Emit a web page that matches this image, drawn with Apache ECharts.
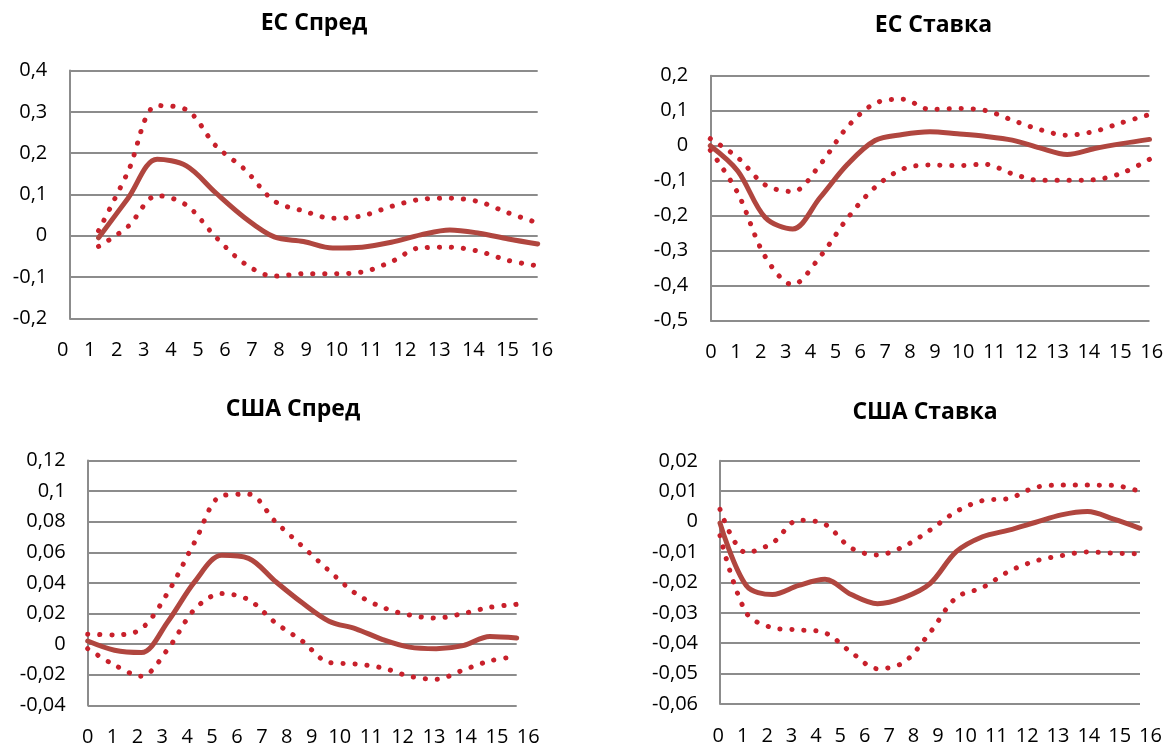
<!DOCTYPE html>
<html><head><meta charset="utf-8">
<script src="https://cdn.jsdelivr.net/npm/echarts@6/dist/echarts.min.js"></script>
<style>html,body{margin:0;padding:0;background:#fff}#c{width:1171px;height:749px}</style>
</head><body><div id="c"></div>
<script>
// ---- data ----
const TICKS_X = ['0','1','2','3','4','5','6','7','8','9','10','11','12','13','14','15','16'];
const X_0_16 = [0,1,2,3,4,5,6,7,8,9,10,11,12,13,14,15,16];
const X_1_16 = [1,2,3,4,5,6,7,8,9,10,11,12,13,14,15,16];

const EU_SPREAD_MID = [-0.005, 0.09, 0.185, 0.169, 0.104, 0.043, -0.003, -0.014, -0.03, -0.028, -0.016, 0.002, 0.014, 0.006, -0.008, -0.02];
const EU_SPREAD_UP  = [0.012, 0.154, 0.315, 0.305, 0.218, 0.16, 0.084, 0.06, 0.042, 0.048, 0.071, 0.088, 0.091, 0.082, 0.055, 0.031];
const EU_SPREAD_LO  = [-0.026, 0.022, 0.097, 0.074, -0.003, -0.068, -0.098, -0.092, -0.092, -0.088, -0.063, -0.029, -0.028, -0.038, -0.06, -0.073];

const EU_RATE_MID = [0.0, -0.072, -0.205, -0.238, -0.148, -0.053, 0.015, 0.032, 0.04, 0.034, 0.027, 0.016, -0.006, -0.025, -0.008, 0.006, 0.018];
const EU_RATE_UP  = [0.02, -0.034, -0.112, -0.131, -0.054, 0.054, 0.121, 0.133, 0.104, 0.106, 0.101, 0.073, 0.046, 0.03, 0.041, 0.066, 0.089];
const EU_RATE_LO  = [-0.013, -0.135, -0.317, -0.397, -0.317, -0.207, -0.119, -0.067, -0.055, -0.057, -0.053, -0.08, -0.099, -0.099, -0.097, -0.078, -0.039];

const US_SPREAD_MID = [0.002, -0.004, -0.0055, 0.015, 0.041, 0.058, 0.056, 0.041, 0.027, 0.015, 0.01, 0.003, -0.002, -0.003, -0.001, 0.005, 0.004];
const US_SPREAD_UP  = [0.0065, 0.006, 0.01, 0.034, 0.067, 0.097, 0.098, 0.08, 0.064, 0.048, 0.033, 0.024, 0.019, 0.017, 0.02, 0.024, 0.026];
const US_SPREAD_LO  = [-0.003, -0.0137, -0.021, -0.003, 0.023, 0.033, 0.029, 0.014, 0.002, -0.012, -0.013, -0.0156, -0.021, -0.023, -0.017, -0.011, -0.008];

const US_RATE_MID = [-0.0005, -0.021, -0.024, -0.021, -0.019, -0.024, -0.027, -0.025, -0.0204, -0.0099, -0.005, -0.0028, -0.0003, 0.0022, 0.0033, 0.0008, -0.0022];
const US_RATE_UP  = [0.004, -0.0102, -0.007, 0.0005, -0.0009, -0.0087, -0.011, -0.0082, -0.0028, 0.0033, 0.0069, 0.0076, 0.0112, 0.012, 0.012, 0.0119, 0.0099];
const US_RATE_LO  = [-0.0046, -0.030, -0.0349, -0.0356, -0.0366, -0.043, -0.0484, -0.0463, -0.0365, -0.025, -0.0217, -0.0164, -0.013, -0.0112, -0.010, -0.0104, -0.0106];

const Y_EU_SPREAD = [-0.2, 0.4, 0.1];
const Y_EU_RATE   = [-0.5, 0.2, 0.1];
const Y_US_SPREAD = [-0.04, 0.12, 0.02];
const Y_US_RATE   = [-0.06, 0.02, 0.01];

// ---- layout ----
const W = 1171, H = 749;
const FONT = "'Open Sans', 'Noto Sans', sans-serif";
const SOLID = '#B0463F', DOTS = '#C8202B', GRID = '#8C8C8C';

const PANELS = [
  {title: 'ЕС Спред', tx: 314, ty: 23.5, plot: [69.3, 70.5, 537.7, 318.3], lab: [62.7, 541.7],
   yr: Y_EU_SPREAD, xs: X_1_16, mid: EU_SPREAD_MID, up: EU_SPREAD_UP, lo: EU_SPREAD_LO},
  {title: 'ЕС Ставка', tx: 933.5, ty: 25.2, plot: [710.3, 75.7, 1149.5, 320.7], lab: [711, 1151.7],
   yr: Y_EU_RATE, xs: X_0_16, mid: EU_RATE_MID, up: EU_RATE_UP, lo: EU_RATE_LO},
  {title: 'США Спред', tx: 293, ty: 409, plot: [87.7, 460.5, 516.7, 705.3], lab: [87.7, 528.3],
   yr: Y_US_SPREAD, xs: X_0_16, mid: US_SPREAD_MID, up: US_SPREAD_UP, lo: US_SPREAD_LO},
  {title: 'США Ставка', tx: 925, ty: 412, plot: [720, 460.8, 1140, 704], lab: [718.3, 1150.5],
   yr: Y_US_RATE, xs: X_0_16, mid: US_RATE_MID, up: US_RATE_UP, lo: US_RATE_LO}
];

// label centres: text-like layout (width per digit 1, gap 2.8), normalised to [0,1]
const GAP = 2.8;
const labelPos = (() => {
  const c = [0];
  for (let i = 1; i < TICKS_X.length; i++) {
    c.push(c[i - 1] + (TICKS_X[i - 1].length + TICKS_X[i].length) / 2 + GAP);
  }
  const last = c[c.length - 1];
  return c.map(v => v / last);
})();

const fmtY = v => String(+(+v).toFixed(4)).replace('.', ',');

const option = {
  animation: false,
  backgroundColor: '#fff',
  title: [], grid: [], xAxis: [], yAxis: [], series: []
};

PANELS.forEach((p, k) => {
  const [l, t, r, b] = p.plot;
  option.title.push({
    text: p.title, left: p.tx, top: p.ty, textAlign: 'center', textVerticalAlign: 'middle', padding: 0,
    textStyle: {fontFamily: FONT, fontWeight: 'bold', fontSize: 23, color: '#000'}
  });
  option.grid.push({left: l, top: t, right: W - r, bottom: H - b, containLabel: false});
  option.grid.push({left: p.lab[0], top: t, right: W - p.lab[1], bottom: H - b, containLabel: false});
  const gD = 2 * k, gL = 2 * k + 1;
  option.xAxis.push({
    type: 'value', gridIndex: gD, min: 0, max: 16, interval: 1,
    axisLine: {show: false}, axisTick: {show: false}, axisLabel: {show: false}, splitLine: {show: false}
  });
  option.xAxis.push({
    type: 'value', gridIndex: gL, min: 0, max: 1,
    axisLine: {show: false}, axisTick: {show: false}, splitLine: {show: false},
    axisLabel: {
      show: true, customValues: labelPos, margin: 22, fontSize: 20, fontFamily: FONT, color: '#000',
      formatter: v => {
        let best = 0, d = 1e9;
        labelPos.forEach((q, i) => { if (Math.abs(q - v) < d) { d = Math.abs(q - v); best = i; } });
        return TICKS_X[best];
      }
    }
  });
  option.yAxis.push({
    type: 'value', gridIndex: gD, min: p.yr[0], max: p.yr[1], interval: p.yr[2],
    axisLine: {show: true, onZero: false, lineStyle: {color: GRID, width: 2}},
    axisTick: {show: false},
    splitLine: {show: true, lineStyle: {color: GRID, width: 2}},
    axisLabel: {margin: 22, fontSize: 20, fontFamily: FONT, color: '#000', formatter: fmtY}
  });
  option.yAxis.push({type: 'value', gridIndex: gL, min: 0, max: 1, show: false});
  const yi = 2 * k;
  const pts = arr => p.xs.map((x, i) => [x, arr[i]]);
  const dotted = arr => ({
    type: 'line', xAxisIndex: yi, yAxisIndex: yi, data: pts(arr), smooth: 0.33, showSymbol: false,
    silent: true, z: 2,
    lineStyle: {color: DOTS, width: 5, type: [0.2, 11.8], cap: 'round'}
  });
  option.series.push(dotted(p.up));
  option.series.push(dotted(p.lo));
  option.series.push({
    type: 'line', xAxisIndex: yi, yAxisIndex: yi, data: pts(p.mid), smooth: 0.33, showSymbol: false,
    silent: true, z: 3,
    lineStyle: {color: SOLID, width: 5, cap: 'round', join: 'round'}
  });
});

const chart = echarts.init(document.getElementById('c'), null, {renderer: 'canvas'});
chart.setOption(option);
</script>
</body></html>
